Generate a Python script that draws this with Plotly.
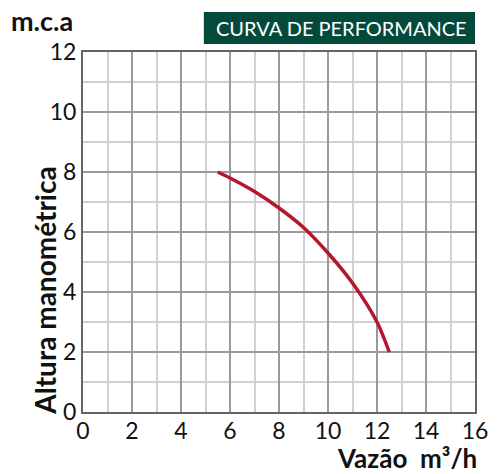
import plotly.graph_objects as go

# Pump performance curve: flow (m³/h) vs. head (m.c.a)
vazao = [5.5, 6, 7, 8, 9, 10, 11, 12, 12.5]
altura = [8.0, 7.8, 7.35, 6.8, 6.15, 5.3, 4.3, 3.0, 2.0]

x_ticks = [0, 2, 4, 6, 8, 10, 12, 14, 16]
y_ticks = [0, 2, 4, 6, 8, 10, 12]

FONT = "Lato"
W, H = 500, 474
ML, MR, MT, MB = 83, 18, 52, 62

fig = go.Figure()
fig.add_trace(go.Scatter(
    x=vazao, y=altura, mode="lines",
    line=dict(color="#b5172f", width=3.5, shape="spline", smoothing=0.8),
    hoverinfo="skip", showlegend=False,
))

axis_common = dict(
    showline=True, linecolor="#666666", linewidth=2, mirror=True,
    showgrid=True, gridcolor="#9a9a9a", gridwidth=1.5,
    zeroline=False, ticks="", tickfont=dict(family=FONT, size=23, color="#111111"),
)

fig.update_xaxes(
    range=[0, 16], tickvals=x_ticks, ticktext=[str(v) for v in x_ticks],
    minor=dict(dtick=1, tick0=0, showgrid=True, gridcolor="#d0d0d0", gridwidth=1.5),
    ticklabelstandoff=-3,
    **axis_common,
)
fig.update_yaxes(
    range=[0, 12], tickvals=y_ticks, ticktext=[str(v) for v in y_ticks],
    minor=dict(dtick=1, tick0=0, showgrid=True, gridcolor="#d0d0d0", gridwidth=1.5),
    ticklabelstandoff=0,
    **axis_common,
)

pw = W - ML - MR
ph = H - MT - MB

def px_x(p):
    return (p - ML) / pw

def px_y(p):
    return (H - MB - p) / ph

# Header box
fig.add_shape(type="rect", xref="paper", yref="paper",
              x0=px_x(206), x1=px_x(482), y0=px_y(44), y1=px_y(12),
              fillcolor="#034a3c", line=dict(width=0), layer="above")

annotations = [
    dict(text="CURVA DE PERFORMANCE", x=px_x(346), y=px_y(28),
         font=dict(family=FONT, size=20, color="white")),
    dict(text="<b>m.c.a</b>", x=px_x(41), y=px_y(20),
         font=dict(family=FONT, size=27, color="#111111")),
    dict(text="<b>Vazão  m³/h</b>", x=px_x(413), y=px_y(458),
         font=dict(family=FONT, size=26, color="#111111")),
    dict(text="<b>Altura manométrica</b>", x=px_x(44), y=px_y(291), textangle=-90,
         font=dict(family=FONT, size=28, color="#111111")),
]
for a in annotations:
    fig.add_annotation(xref="paper", yref="paper", showarrow=False,
                       xanchor="center", yanchor="middle", **a)

fig.update_layout(
    width=W, height=H,
    margin=dict(l=ML, r=MR, t=MT, b=MB),
    paper_bgcolor="white", plot_bgcolor="white",
    font=dict(family=FONT),
)

fig.write_html("out.html")
